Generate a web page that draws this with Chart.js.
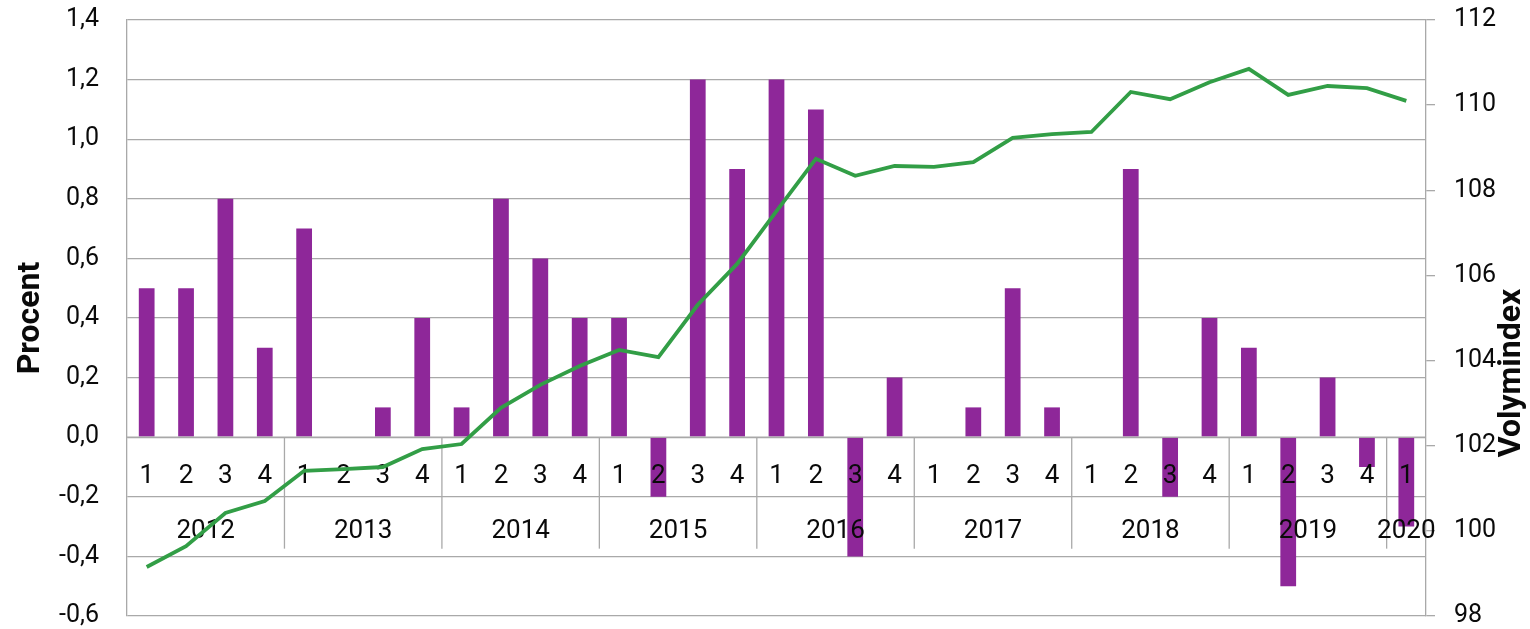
<!DOCTYPE html>
<html>
<head>
<meta charset="utf-8">
<script src="https://cdn.jsdelivr.net/npm/chart.js@4.4.1/dist/chart.umd.min.js"></script>
<style>
  html, body { margin: 0; padding: 0; background: #fff; }
  #wrap { width: 1530px; height: 629px; }
</style>
</head>
<body>
<div id="wrap"><canvas id="graf"></canvas></div>
<script>
// Kvartal och år (2012 K1 - 2020 K1)
var ar = ['2012', '2013', '2014', '2015', '2016', '2017', '2018', '2019', '2020'];
var kvartalPerAr = [4, 4, 4, 4, 4, 4, 4, 4, 1];
var kvartal = [
  '1', '2', '3', '4', '1', '2', '3', '4', '1', '2', '3', '4',
  '1', '2', '3', '4', '1', '2', '3', '4', '1', '2', '3', '4',
  '1', '2', '3', '4', '1', '2', '3', '4', '1'
];

// Förändring, procent (staplar, vänster axel)
var procent = [
  0.5, 0.5, 0.8, 0.3,
  0.7, 0.0, 0.1, 0.4,
  0.1, 0.8, 0.6, 0.4,
  0.4, -0.2, 1.2, 0.9,
  1.2, 1.1, -0.4, 0.2,
  0.0, 0.1, 0.5, 0.1,
  0.0, 0.9, -0.2, 0.4,
  0.3, -0.5, 0.2, -0.1,
  -0.3
];

// Volymindex (linje, höger axel)
var volymindex = [
  99.15, 99.64, 100.42, 100.70,
  101.41, 101.45, 101.50, 101.92,
  102.04, 102.89, 103.43, 103.87,
  104.25, 104.08, 105.31, 106.27,
  107.51, 108.74, 108.34, 108.57,
  108.55, 108.66, 109.23, 109.32,
  109.37, 110.31, 110.14, 110.54,
  110.85, 110.24, 110.45, 110.40,
  110.10
];

// Axelskalor
var vansterMin = -0.6, vansterMax = 1.4, vansterSteg = 0.2;
var hogerMin = 98, hogerMax = 112, hogerSteg = 2;

var gra = '#a9a9a9';
var textFarg = '#0a0a0a';
var typsnitt = 'Roboto, "Noto Sans", sans-serif';

// etiketter för kategoriaxeln byggs från kvartal + år
var etiketter = [];
var arIndex = [];
ar.forEach(function (a, i) {
  for (var k = 0; k < kvartalPerAr[i]; k++) arIndex.push(i);
});
kvartal.forEach(function (q, i) {
  etiketter.push(ar[arIndex[i]] + ' K' + q);
});

// Ritar kvartal/år under nollinjen, ovanpå staplarna men under linjen
var axelEtiketter = {
  id: 'axelEtiketter',
  afterDatasetDraw: function (chart, args) {
    if (args.index !== 0) return;
    var ctx = chart.ctx;
    var x = chart.scales.x;
    var y = chart.scales.y;
    var noll = y.getPixelForValue(0);
    var rad = noll - y.getPixelForValue(0.2);
    var steg = x.getPixelForValue(1) - x.getPixelForValue(0);

    ctx.save();
    // avdelare mellan år
    ctx.strokeStyle = gra;
    ctx.lineWidth = 1.3;
    var start = 0;
    kvartalPerAr.forEach(function (n, i) {
      var slut = start + n;
      if (i < kvartalPerAr.length - 1) {
        var xp = x.getPixelForValue(slut - 1) + steg / 2;
        ctx.beginPath();
        ctx.moveTo(xp, noll);
        ctx.lineTo(xp, noll + rad * 1.87);
        ctx.stroke();
      }
      start = slut;
    });

    // nollinje
    ctx.beginPath();
    ctx.moveTo(chart.chartArea.left, noll);
    ctx.lineTo(chart.chartArea.right, noll);
    ctx.stroke();

    ctx.fillStyle = textFarg;
    ctx.font = '26px ' + typsnitt;
    ctx.textAlign = 'center';
    ctx.textBaseline = 'middle';
    kvartal.forEach(function (q, i) {
      ctx.fillText(q, x.getPixelForValue(i), noll + rad * 0.66);
    });

    start = 0;
    kvartalPerAr.forEach(function (n, i) {
      var mitt = (x.getPixelForValue(start) + x.getPixelForValue(start + n - 1)) / 2;
      ctx.fillText(ar[i], mitt, noll + rad * 1.58);
      start += n;
    });
    ctx.restore();
  },
  afterDraw: function (chart) {
    var ctx = chart.ctx;
    var y = chart.scales.y;
    ctx.save();
    ctx.fillStyle = textFarg;
    ctx.font = 'bold 32px ' + typsnitt;
    ctx.textAlign = 'center';
    ctx.textBaseline = 'middle';
    // Procent (vänster)
    ctx.translate(31, (y.top + y.bottom) / 2);
    ctx.rotate(-Math.PI / 2);
    ctx.fillText('Procent', 0, 0);
    ctx.restore();

    ctx.save();
    ctx.fillStyle = textFarg;
    ctx.font = 'bold 32px ' + typsnitt;
    ctx.textAlign = 'center';
    ctx.textBaseline = 'middle';
    ctx.translate(1512, 373);
    ctx.rotate(-Math.PI / 2);
    ctx.fillText('Volymindex', 0, 0);
    ctx.restore();
  }
};

function formatProcent(v) {
  return v.toFixed(1).replace('.', ',').replace('-0,0', '0,0');
}

var ctx = document.getElementById('graf').getContext('2d');
new Chart(ctx, {
  type: 'bar',
  data: {
    labels: etiketter,
    datasets: [{
      type: 'bar',
      label: 'Procent',
      data: procent,
      backgroundColor: 'rgb(142, 39, 153)',
      borderWidth: 0,
      categoryPercentage: 1.0,
      barPercentage: 0.4,
      yAxisID: 'y',
      order: 1
    }, {
      type: 'line',
      label: 'Volymindex',
      data: volymindex,
      borderColor: 'rgb(50, 158, 70)',
      borderWidth: 3.8,
      pointRadius: 0,
      tension: 0,
      fill: false,
      yAxisID: 'y1',
      order: 0
    }]
  },
  options: {
    responsive: true,
    maintainAspectRatio: false,
    animation: false,
    events: [],
    layout: { padding: { top: 20, bottom: 13, left: 0, right: 0 } },
    plugins: {
      legend: { display: false },
      tooltip: { enabled: false }
    },
    scales: {
      x: {
        display: false,
        offset: true
      },
      y: {
        position: 'left',
        min: vansterMin,
        max: vansterMax,
        afterFit: function (s) { s.width = 127; s.paddingTop = 0; s.paddingBottom = 0; },
        ticks: {
          stepSize: vansterSteg,
          padding: 28,
          color: textFarg,
          font: { family: typsnitt, size: 25 },
          callback: function (v) { return formatProcent(v); }
        },
        grid: { color: gra, lineWidth: 1.3, drawTicks: false },
        border: { display: true, color: gra, width: 1.3 }
      },
      y1: {
        position: 'right',
        min: hogerMin,
        max: hogerMax,
        afterFit: function (s) { s.width = 104; s.paddingTop = 0; s.paddingBottom = 0; },
        ticks: {
          stepSize: hogerSteg,
          padding: 19,
          color: textFarg,
          font: { family: typsnitt, size: 25 }
        },
        grid: { drawOnChartArea: false, color: gra, lineWidth: 1.3, tickLength: 9 },
        border: { display: true, color: gra, width: 1.3 }
      }
    }
  },
  plugins: [axelEtiketter]
});
</script>
</body>
</html>
